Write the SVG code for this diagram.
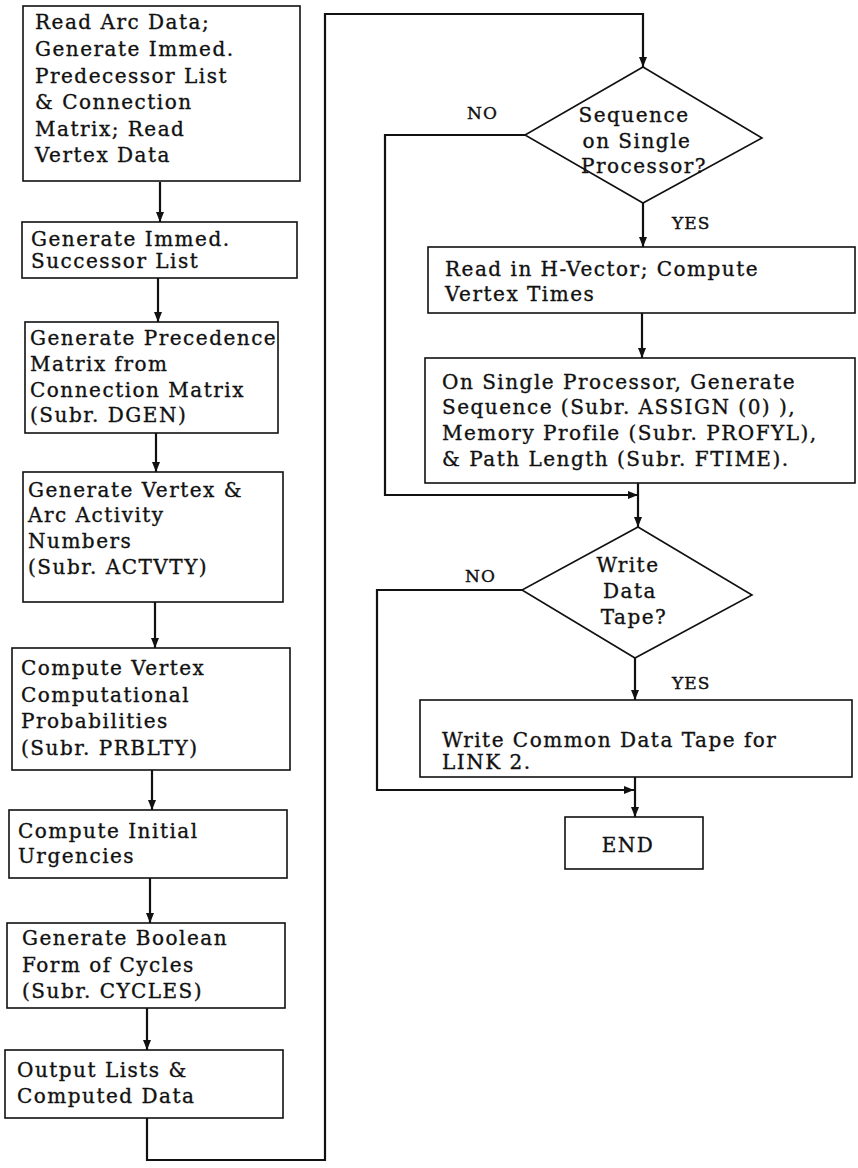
<svg xmlns="http://www.w3.org/2000/svg" width="858" height="1168" viewBox="0 0 858 1168">
<defs>
<marker id="arr" viewBox="0 0 10 10" refX="10" refY="5" markerWidth="10" markerHeight="14" markerUnits="userSpaceOnUse" orient="auto">
<path d="M0,1 L10,5 L0,9 z" fill="#111"/>
</marker>
</defs>
<style>
.box{fill:#fff;stroke:#111;stroke-width:1.6}
.dia{fill:#fff;stroke:#111;stroke-width:1.6}
.t{font-family:"DejaVu Serif","Liberation Serif",serif;font-size:20px;letter-spacing:1.5px;fill:#111;stroke:#111;stroke-width:0.35}
.c{text-anchor:middle}
.lbl{font-family:"DejaVu Serif","Liberation Serif",serif;font-size:17px;letter-spacing:1px;fill:#111;stroke:#111;stroke-width:0.4}
.la{fill:none;stroke:#111;stroke-width:2.2;marker-end:url(#arr)}
</style>
<rect width="858" height="1168" fill="#fff"/>
<g id="connectors">
<line class="la" x1="160" y1="182" x2="160" y2="222"/>
<line class="la" x1="158" y1="278" x2="158" y2="322"/>
<line class="la" x1="156" y1="433" x2="156" y2="472"/>
<line class="la" x1="155" y1="602" x2="155" y2="648"/>
<line class="la" x1="152" y1="770" x2="152" y2="810"/>
<line class="la" x1="150" y1="878" x2="150" y2="923"/>
<line class="la" x1="147" y1="1008" x2="147" y2="1050"/>
<path class="la" d="M147,1118 V1160 H325 V14 H643 V67"/>
<line class="la" x1="643" y1="203" x2="643" y2="247"/>
<path class="la" d="M525,135 H385 V495 H638"/>
<line class="la" x1="642" y1="313" x2="642" y2="358"/>
<line class="la" x1="638" y1="483" x2="638" y2="527"/>
<line class="la" x1="635" y1="658" x2="635" y2="700"/>
<path class="la" d="M522,590 H377 V790 H634"/>
<line class="la" x1="635" y1="777" x2="635" y2="817"/>
<text class="lbl" x="467" y="119">NO</text>
<text class="lbl" x="672" y="229">YES</text>
<text class="lbl" x="465" y="582">NO</text>
<text class="lbl" x="672" y="689">YES</text>
</g>
<g id="n1">
<rect class="box" x="23" y="6" width="277" height="175"/>
<text class="t" x="35" y="29">Read Arc Data;</text>
<text class="t" x="35" y="56">Generate Immed.</text>
<text class="t" x="35" y="83">Predecessor List</text>
<text class="t" x="35" y="109">&amp; Connection</text>
<text class="t" x="35" y="136">Matrix; Read</text>
<text class="t" x="35" y="162">Vertex Data</text>
</g>
<g id="n2">
<rect class="box" x="22" y="222" width="275" height="56"/>
<text class="t" x="31" y="246">Generate Immed.</text>
<text class="t" x="31" y="268">Successor List</text>
</g>
<g id="n3">
<rect class="box" x="25" y="322" width="253" height="111"/>
<text class="t" x="30" y="345">Generate Precedence</text>
<text class="t" x="30" y="371">Matrix from</text>
<text class="t" x="30" y="397">Connection Matrix</text>
<text class="t" x="30" y="422">(Subr. DGEN)</text>
</g>
<g id="n4">
<rect class="box" x="23" y="472" width="260" height="130"/>
<text class="t" x="28" y="497">Generate Vertex &amp;</text>
<text class="t" x="28" y="522">Arc Activity</text>
<text class="t" x="28" y="548">Numbers</text>
<text class="t" x="28" y="574">(Subr. ACTVTY)</text>
</g>
<g id="n5">
<rect class="box" x="12" y="648" width="278" height="122"/>
<text class="t" x="21" y="675">Compute Vertex</text>
<text class="t" x="21" y="702">Computational</text>
<text class="t" x="21" y="728">Probabilities</text>
<text class="t" x="21" y="755">(Subr. PRBLTY)</text>
</g>
<g id="n6">
<rect class="box" x="9" y="810" width="278" height="68"/>
<text class="t" x="18" y="838">Compute Initial</text>
<text class="t" x="18" y="863">Urgencies</text>
</g>
<g id="n7">
<rect class="box" x="7" y="923" width="278" height="85"/>
<text class="t" x="22" y="945">Generate Boolean</text>
<text class="t" x="22" y="972">Form of Cycles</text>
<text class="t" x="22" y="998">(Subr. CYCLES)</text>
</g>
<g id="n8">
<rect class="box" x="5" y="1050" width="278" height="68"/>
<text class="t" x="17" y="1077">Output Lists &amp;</text>
<text class="t" x="17" y="1103">Computed Data</text>
</g>
<g id="d1">
<polygon class="dia" points="643,67 762,138 643,203 525,135"/>
<text class="t c" x="634" y="122">Sequence</text>
<text class="t c" x="637" y="148">on Single</text>
<text class="t c" x="644" y="173">Processor?</text>
</g>
<g id="n9">
<rect class="box" x="428" y="247" width="427" height="66"/>
<text class="t" x="445" y="276">Read in H-Vector; Compute</text>
<text class="t" x="445" y="301">Vertex Times</text>
</g>
<g id="n10">
<rect class="box" x="425" y="358" width="430" height="125"/>
<text class="t" x="442" y="389">On Single Processor, Generate</text>
<text class="t" x="442" y="414">Sequence (Subr. ASSIGN (0) ),</text>
<text class="t" x="442" y="440">Memory Profile (Subr. PROFYL),</text>
<text class="t" x="442" y="466">&amp; Path Length (Subr. FTIME).</text>
</g>
<g id="d2">
<polygon class="dia" points="638,527 752,595 635,658 522,590"/>
<text class="t c" x="628" y="572">Write</text>
<text class="t c" x="630" y="598">Data</text>
<text class="t c" x="634" y="624">Tape?</text>
</g>
<g id="n11">
<rect class="box" x="420" y="700" width="432" height="77"/>
<text class="t" x="442" y="747">Write Common Data Tape for</text>
<text class="t" x="442" y="769">LINK 2.</text>
</g>
<g id="end">
<rect class="box" x="565" y="817" width="138" height="52"/>
<text class="t c" x="628" y="852">END</text>
</g>
</svg>
